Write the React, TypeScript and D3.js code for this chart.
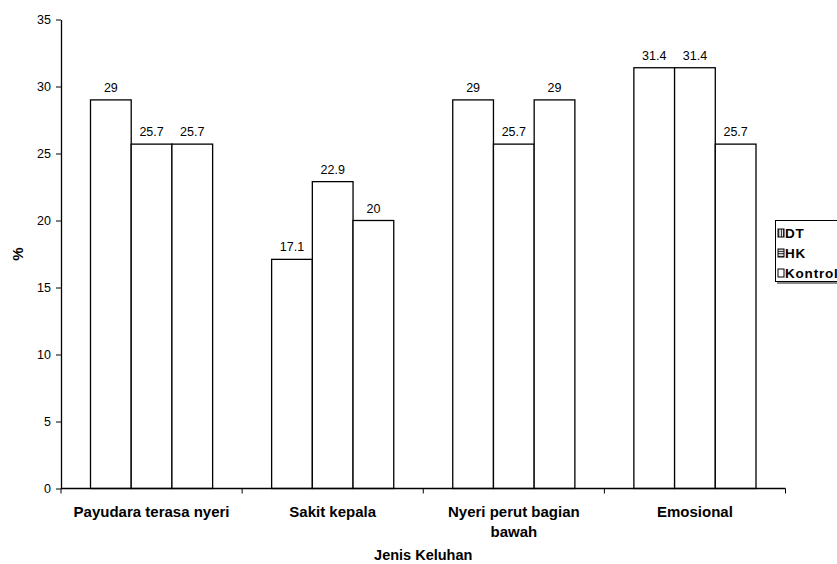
import React, { useEffect, useRef } from 'react';
import * as d3 from 'd3';

const categories = ['Payudara terasa nyeri', 'Sakit kepala', 'Nyeri perut bagian bawah', 'Emosional'];
const series = ['DT', 'HK', 'Kontrol'];
const dtValues = [29, 17.1, 29, 31.4];
const hkValues = [25.7, 22.9, 25.7, 31.4];
const kontrolValues = [25.7, 20, 29, 25.7];
const yTicks = [0, 5, 10, 15, 20, 25, 30, 35];

const W = 837;
const H = 564;

const App: React.FC = () => {
  const ref = useRef<SVGSVGElement>(null);

  useEffect(() => {
    if (!ref.current) return;
    const svg = d3.select(ref.current);
    svg.selectAll('*').remove();

    const font = '"Liberation Sans", Arial, sans-serif';
    const left = 61, right = 785.5, top = 19.5, bottom = 488.5;
    const values = [dtValues, hkValues, kontrolValues];

    // motifs des pastilles de légende
    const defs = svg.append('defs');
    const pv = defs.append('pattern').attr('id', 'pv').attr('patternUnits', 'userSpaceOnUse')
      .attr('width', 2.5).attr('height', 3);
    pv.append('rect').attr('width', 2.5).attr('height', 3).attr('fill', '#fff');
    pv.append('rect').attr('x', 0.8).attr('width', 1).attr('height', 3).attr('fill', '#000');
    const ph = defs.append('pattern').attr('id', 'ph').attr('patternUnits', 'userSpaceOnUse')
      .attr('width', 3).attr('height', 2.5);
    ph.append('rect').attr('width', 3).attr('height', 2.5).attr('fill', '#fff');
    ph.append('rect').attr('y', 0.8).attr('width', 3).attr('height', 1).attr('fill', '#000');

    const x0 = d3.scaleBand().domain(categories).range([left, right]).paddingInner(0).paddingOuter(0);
    const x1 = d3.scaleBand().domain(series).range([29.5, x0.bandwidth() - 29.5]).padding(0);
    const y = d3.scaleLinear().domain([0, 35]).range([bottom, top]);

    // barres + étiquettes
    categories.forEach((c, ci) => {
      series.forEach((s, si) => {
        const v = values[si][ci];
        const bx = (x0(c) as number) + (x1(s) as number);
        svg.append('rect')
          .attr('x', bx)
          .attr('y', y(v))
          .attr('width', x1.bandwidth())
          .attr('height', bottom - y(v))
          .attr('fill', '#fff')
          .attr('stroke', '#000')
          .attr('stroke-width', 1.3);
        svg.append('text')
          .attr('x', bx + x1.bandwidth() / 2)
          .attr('y', y(v) - 8)
          .attr('text-anchor', 'middle')
          .attr('font-family', font)
          .attr('font-size', 12.5)
          .text(String(v));
      });
    });

    // axe y
    const ya = svg.append('g').attr('transform', `translate(${left},0)`)
      .call(d3.axisLeft(y).tickValues(yTicks).tickSize(5).tickSizeOuter(0).tickPadding(5));
    ya.select('.domain').attr('stroke', '#000').attr('stroke-width', 1.3);
    ya.selectAll('.tick line').attr('stroke', '#000');
    ya.selectAll('text').attr('font-family', font).attr('font-size', 12.5).attr('fill', '#000');

    // axe x
    const boundaries = categories.map(c => x0(c) as number).concat([right]);
    svg.append('line').attr('x1', left).attr('x2', right).attr('y1', bottom).attr('y2', bottom)
      .attr('stroke', '#000').attr('stroke-width', 1.3);
    boundaries.forEach(b => {
      svg.append('line').attr('x1', b).attr('x2', b).attr('y1', bottom).attr('y2', bottom + 5)
        .attr('stroke', '#000');
    });

    // libellés des catégories
    const lines: Record<string, string[]> = {
      'Nyeri perut bagian bawah': ['Nyeri perut bagian', 'bawah'],
    };
    categories.forEach(c => {
      const cx = (x0(c) as number) + x0.bandwidth() / 2;
      const t = svg.append('text')
        .attr('x', cx)
        .attr('y', 517)
        .attr('text-anchor', 'middle')
        .attr('font-family', font)
        .attr('font-size', 15)
        .attr('font-weight', 'bold');
      (lines[c] || [c]).forEach((l, i) => {
        t.append('tspan').attr('x', cx).attr('dy', i === 0 ? 0 : 20).text(l);
      });
    });

    // titres des axes
    svg.append('text')
      .attr('x', (left + right) / 2)
      .attr('y', 560)
      .attr('text-anchor', 'middle')
      .attr('font-family', font)
      .attr('font-size', 14.5)
      .attr('font-weight', 'bold')
      .text('Jenis Keluhan');
    svg.append('text')
      .attr('transform', `translate(23,254) rotate(-90)`)
      .attr('text-anchor', 'middle')
      .attr('font-family', font)
      .attr('font-size', 15)
      .attr('font-weight', 'bold')
      .text('%');

    // légende
    const lg = svg.append('g').attr('transform', 'translate(775,220)');
    lg.append('rect').attr('x', 2).attr('y', 2).attr('width', 80).attr('height', 62).attr('fill', '#888');
    lg.append('rect').attr('x', 0.5).attr('y', 0.5).attr('width', 80).attr('height', 61)
      .attr('fill', '#fff').attr('stroke', '#000');
    const fills = ['url(#pv)', 'url(#ph)', '#fff'];
    series.forEach((s, i) => {
      const cy = 13 + i * 20;
      lg.append('rect').attr('x', 3).attr('y', cy - 4).attr('width', 6).attr('height', 8)
        .attr('fill', fills[i]).attr('stroke', '#000');
      lg.append('text')
        .attr('x', 10)
        .attr('y', cy + 5)
        .attr('font-family', font)
        .attr('font-size', 13.5)
        .attr('letter-spacing', 0.8)
        .attr('font-weight', 'bold')
        .text(s);
    });
  }, []);

  return (
    <svg
      ref={ref}
      width={W}
      height={H}
      style={{ position: 'absolute', left: 0, top: 0, background: '#fff' }}
    />
  );
};

export default App;
